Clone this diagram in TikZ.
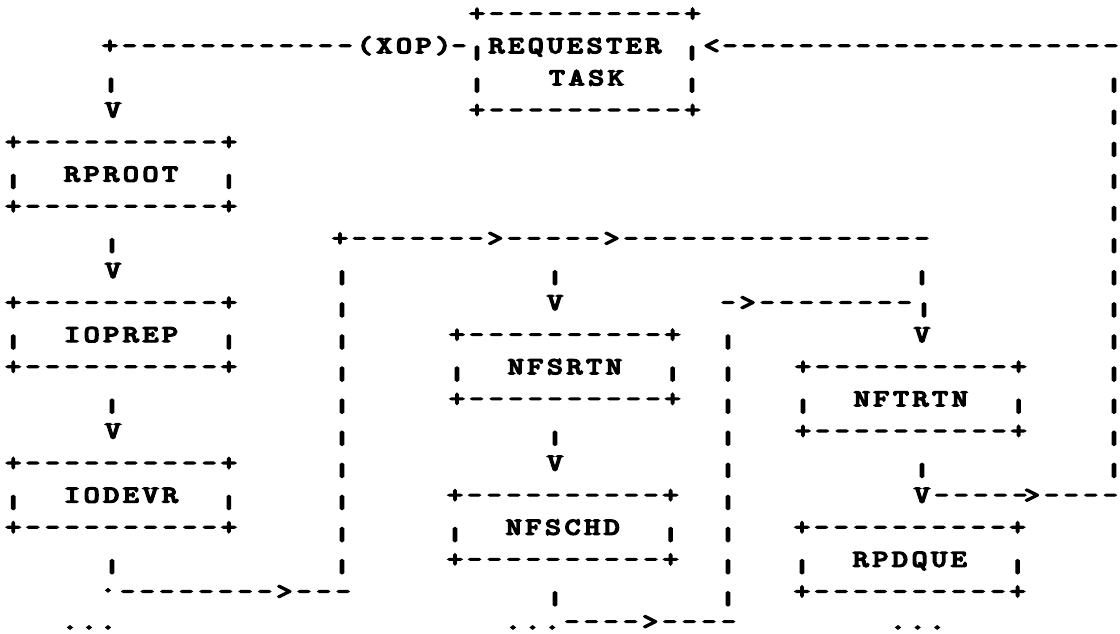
\documentclass[tikz,border=0pt]{standalone}
\usepackage{fontspec}
\usepackage{graphicx}
\newfontfamily\asciifont{lmmono10-regular.otf}[FakeBold=6]
\newcount\asciicol
\newcount\glyphno
\tikzset{
  ch/.style={anchor=base, inner sep=0pt, outer sep=0pt, font=\asciifont\fontsize{24}{24}\selectfont},
  vbar/.style={anchor=center, inner sep=0pt, outer sep=0pt, font=\asciifont\fontsize{24}{24}\selectfont}
}
\newcommand\asciiseg[4][19.6]{%
  \def\segp{#1}\def\segx{#2}\pgfmathsetmacro\segy{21+32.1*#3}%
  \global\asciicol=0
  \asciiloop#4\relax}
\def\asciiloop#1{%
  \ifx#1\relax\else
    \global\advance\glyphno by 1
    \ifx#1|%
      \node[vbar,name=g\the\glyphno] at ({\segx+\segp*\the\asciicol},{\segy}) {\makebox[0pt]{\scalebox{1.5}[0.75]{|}}};%
    \else
      \ifx#1-%
        \node[ch,name=g\the\glyphno] at ({\segx+\segp*\the\asciicol},{\segy}) {\makebox[0pt]{\scalebox{1.12}[1]{-}}};%
      \else
        \node[ch,name=g\the\glyphno] at ({\segx+\segp*\the\asciicol},{\segy}) {\makebox[0pt]{\scalebox{1.25}[1]{#1}}};%
      \fi
    \fi
    \global\advance\asciicol by 1
    \expandafter\asciiloop
  \fi}
\begin{document}
\begin{tikzpicture}[x=1pt,y=-1pt]
\useasboundingbox[fill=white] (0,0) rectangle (1120,634);
% row 0
\asciiseg{477}{0}{+----------+}
% row 1
\asciiseg{110}{1}{+------------(XOP)}
\asciiseg{459}{1}{-}
\asciiseg{477}{1}{|REQUESTER}
\asciiseg{692}{1}{|<}
\asciiseg[19.05]{730}{1}{---------------------}
% row 2
\asciiseg{111}{2}{|}
\asciiseg{477}{2}{|}
\asciiseg{557}{2}{TASK}
\asciiseg{692}{2}{|}
\asciiseg{1114}{2}{|}
% row 3
\asciiseg{113}{3}{V}
\asciiseg{477}{3}{+----------+}
\asciiseg{1114}{3}{|}
% row 4
\asciiseg{13.3}{4}{+----------+}
\asciiseg{1114}{4}{|}
% row 5
\asciiseg{13.3}{5}{|}
\asciiseg{72.1}{5}{RPROOT}
\asciiseg{228.9}{5}{|}
\asciiseg{1114}{5}{|}
% row 6
\asciiseg{13.3}{6}{+----------+}
\asciiseg{1114}{6}{|}
% row 7
\asciiseg{112}{7}{|}
\asciiseg[19.4]{340}{7}{+------->----->----------------}
\asciiseg{1114}{7}{|}
% row 8
\asciiseg{113}{8}{V}
\asciiseg{342}{8}{|}
\asciiseg{555}{8}{|}
\asciiseg{922}{8}{|}
\asciiseg{1114}{8}{|}
% row 9
\asciiseg{13.3}{9}{+----------+}
\asciiseg{342}{9}{|}
\asciiseg{555}{9}{V}
\asciiseg{728}{9}{->--------|}
\asciiseg{1114}{9}{|}
% row 10
\asciiseg{13.3}{10}{|}
\asciiseg{72.1}{10}{IOPREP}
\asciiseg{228.9}{10}{|}
\asciiseg{342}{10}{|}
\asciiseg{457}{10}{+----------+}
\asciiseg{728}{10}{|}
\asciiseg{922}{10}{V}
\asciiseg{1114}{10}{|}
% row 11
\asciiseg{13.3}{11}{+----------+}
\asciiseg{342}{11}{|}
\asciiseg{457}{11}{|}
\asciiseg{515.8}{11}{NFSRTN}
\asciiseg{672.6}{11}{|}
\asciiseg{728}{11}{|}
\asciiseg{803}{11}{+----------+}
\asciiseg{1114}{11}{|}
% row 12
\asciiseg{112}{12}{|}
\asciiseg{342}{12}{|}
\asciiseg{457}{12}{+----------+}
\asciiseg{728}{12}{|}
\asciiseg{803}{12}{|}
\asciiseg{861.8}{12}{NFTRTN}
\asciiseg{1018.6}{12}{|}
\asciiseg{1114}{12}{|}
% row 13
\asciiseg{113}{13}{V}
\asciiseg{342}{13}{|}
\asciiseg{555}{13}{|}
\asciiseg{728}{13}{|}
\asciiseg{803}{13}{+----------+}
\asciiseg{1114}{13}{|}
% row 14
\asciiseg{13.3}{14}{+----------+}
\asciiseg{342}{14}{|}
\asciiseg{555}{14}{V}
\asciiseg{728}{14}{|}
\asciiseg{922}{14}{|}
\asciiseg{1114}{14}{|}
% row 15
\asciiseg{13.3}{15}{|}
\asciiseg{72.1}{15}{IODEVR}
\asciiseg{228.9}{15}{|}
\asciiseg{342}{15}{|}
\asciiseg{455}{15}{+----------+}
\asciiseg{728}{15}{|}
\asciiseg{922}{15}{V-----}
\asciiseg{1032}{15}{>----}
% row 16
\asciiseg{13.3}{16}{+----------+}
\asciiseg{342}{16}{|}
\asciiseg{455}{16}{|}
\asciiseg{513.8}{16}{NFSCHD}
\asciiseg{670.6}{16}{|}
\asciiseg{728}{16}{|}
\asciiseg{802}{16}{+----------+}
% row 17
\asciiseg{112}{17}{|}
\asciiseg{342}{17}{|}
\asciiseg{455}{17}{+----------+}
\asciiseg{728}{17}{|}
\asciiseg{802}{17}{|}
\asciiseg{860.8}{17}{RPDQUE}
\asciiseg{1017.6}{17}{|}
% row 18
\node[ch] (junction) at (108,{21+32.1*18-7}) {\makebox[0pt]{\scalebox{1.25}[1]{.}}};
\asciiseg{127.6}{18}{-------->---}
\asciiseg{555}{18}{|}
\asciiseg{728}{18}{|}
\asciiseg{802}{18}{+----------+}
% row 19
\asciiseg[19]{70}{18.94}{...}
\asciiseg{513}{18.94}{...---->----}
\asciiseg{898}{18.94}{...}
\end{tikzpicture}
\end{document}
